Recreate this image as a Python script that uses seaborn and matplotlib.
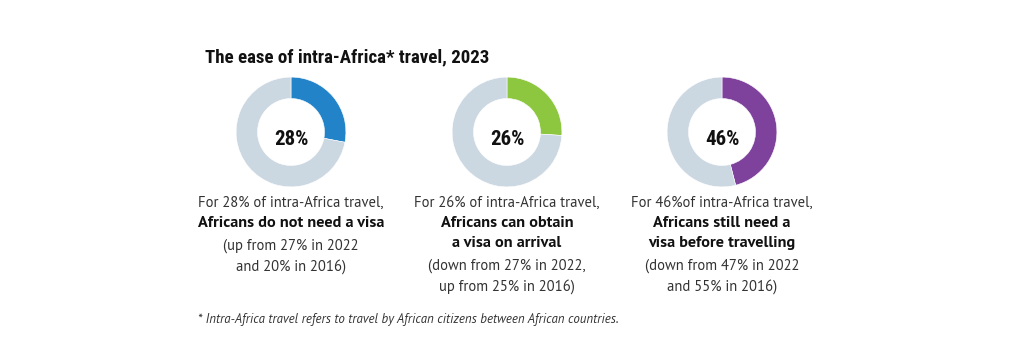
import numpy as np
import pandas as pd
import seaborn as sns
import matplotlib.pyplot as plt

sns.set_style("white")
body_font = ['PT Sans', 'Lato', 'DejaVu Sans']
cond_font = ['Roboto Condensed', 'PT Sans Narrow', 'Roboto', 'DejaVu Sans']
plt.rcParams['font.family'] = body_font

shares = [28, 26, 46]
colors = ['#2283c9', '#8dc63f', '#7e429c']
rest_color = '#cbd7e1'
pct_labels = ['28%', '26%', '46%']
lead_lines = ['For 28% of intra-Africa travel,',
              'For 26% of intra-Africa travel,',
              'For 46%of intra-Africa travel,']
bold_lines = [['Africans do not need a visa'],
              ['Africans can obtain', 'a visa on arrival'],
              ['Africans still need a', 'visa before travelling']]
paren_lines = [['(up from 27% in 2022', 'and 20% in 2016)'],
               ['(down from 27% in 2022,', 'up from 25% in 2016)'],
               ['(down from 47% in 2022', 'and 55% in 2016)']]
title = 'The ease of intra-Africa* travel, 2023'
footnote = '* Intra-Africa travel refers to travel by African citizens between African countries.'

W, H = 1024, 352
fig = plt.figure(figsize=(W / 100, H / 100), dpi=100)
fig.patch.set_facecolor('white')

centers_x = [291, 507, 722]
cy = 132
r = 56

for i, share in enumerate(shares):
    ax = fig.add_axes([(centers_x[i] - r) / W, (H - cy - r) / H, 2 * r / W, 2 * r / H])
    ax.pie([share, 100 - share], colors=[colors[i], rest_color], startangle=90,
           counterclock=False, radius=1,
           wedgeprops=dict(width=0.39, edgecolor='white', linewidth=0.4))
    ax.set_xlim(-1.02, 1.02)
    ax.set_ylim(-1.02, 1.02)
    ax.text(0, -0.13, pct_labels[i], ha='center', va='center', fontsize=15,
            fontweight='bold', family=cond_font, color='#111111')

    x = centers_x[i] / W
    y = 203
    fig.text(x, 1 - y / H, lead_lines[i], ha='center', va='center', fontsize=10.5,
             color='#333333')
    y += 20
    for line in bold_lines[i]:
        fig.text(x, 1 - y / H, line, ha='center', va='center', fontsize=11.7,
                 fontweight='bold', color='#111111')
        y += 20
    y += 3
    for line in paren_lines[i]:
        fig.text(x, 1 - y / H, line, ha='center', va='center', fontsize=10.5,
                 color='#333333')
        y += 21

fig.text(205 / W, 1 - 57 / H, title, ha='left', va='center', fontsize=13.6,
         fontweight='bold', family=cond_font, color='#111111')
fig.text(198 / W, 1 - 320 / H, footnote, ha='left', va='center', fontsize=9.3,
         style='italic', color='#333333')

fig.savefig('out.png', dpi=100, facecolor='white')
